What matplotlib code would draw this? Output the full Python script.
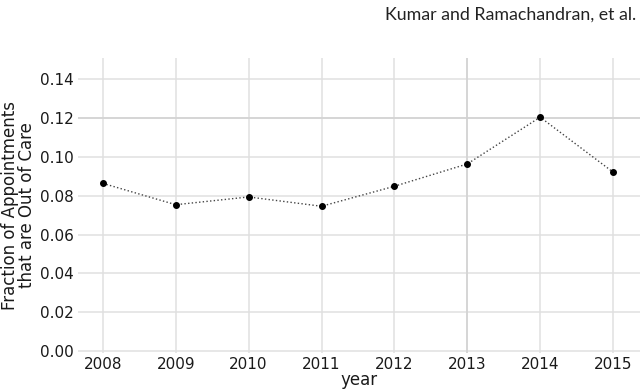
import matplotlib
matplotlib.use("Agg")
import matplotlib.pyplot as plt

plt.rcParams["font.family"] = ["DejaVu Sans"]

years = [2008, 2009, 2010, 2011, 2012, 2013, 2014, 2015]
frac_out_of_care = [0.0864, 0.0754, 0.0794, 0.0746, 0.0849, 0.0964, 0.1205, 0.0922]
yticks = [0.00, 0.02, 0.04, 0.06, 0.08, 0.10, 0.12, 0.14]

fig = plt.figure(figsize=(6.4, 3.89), dpi=100)
ax = fig.add_axes([0.122, 0.0925, 0.878, 0.7585])

ax.plot(years, frac_out_of_care, color="#444444", linestyle=":", linewidth=1.0,
        marker="o", markersize=4, markerfacecolor="black", markeredgecolor="black")

ax.set_xlim(2007.66, 2015.37)
ax.set_ylim(-0.001, 0.151)
ax.set_xticks(years)
ax.set_yticks(yticks)
ax.set_yticklabels(["%.2f" % v for v in yticks])

ax.grid(True, color="#e0e0e0", linewidth=1.1)
# these two gridlines come out a little darker in the original
ax.axhline(0.12, color="#d2d2d2", linewidth=1.1, zorder=0.6)
ax.axvline(2013, color="#d2d2d2", linewidth=1.1, zorder=0.6)
ax.set_axisbelow(True)
for s in ax.spines.values():
    s.set_visible(False)
ax.tick_params(length=0, labelsize=11, colors="#1a1a1a", pad=3)

ax.set_xlabel("year", fontsize=12, labelpad=-1, color="#1a1a1a")
ax.set_ylabel("Fraction of Appointments\nthat are Out of Care", fontsize=12,
              labelpad=3, color="#1a1a1a", linespacing=0.9)

fig.text(0.994, 0.963, "Kumar and Ramachandran, et al.", ha="right", va="center",
         fontsize=12.8, family="Lato", color="#222222")

fig.savefig("out.png", dpi=100)
